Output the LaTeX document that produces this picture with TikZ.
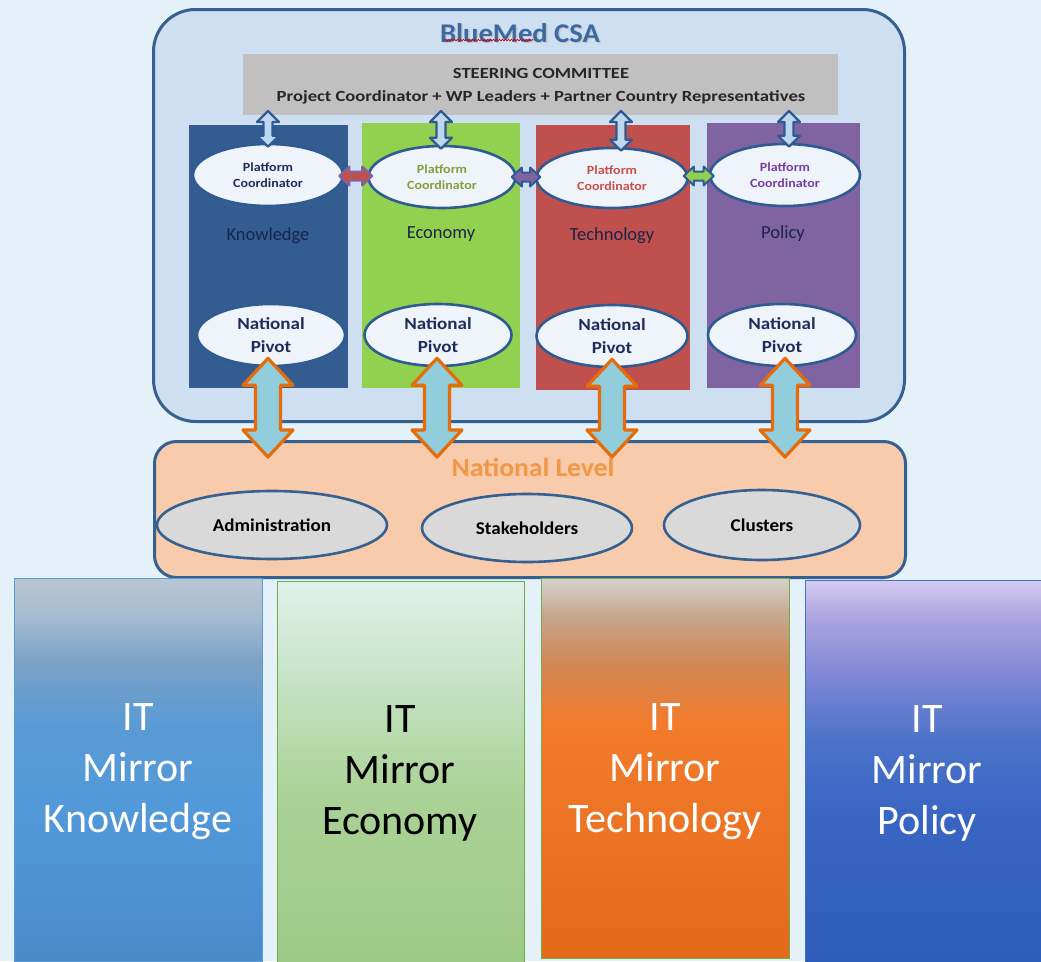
\documentclass[tikz,border=0pt]{standalone}
\usepackage{fontspec}
\setmainfont{Carlito}
\newfontfamily\wideA[FakeStretch=1.2]{Carlito}
\newfontfamily\wideB[FakeStretch=1.12]{Carlito}
\newfontfamily\wideC[FakeStretch=1.06]{Carlito}
\usetikzlibrary{shapes.geometric,calc,decorations.pathmorphing}
\definecolor{bgc}{HTML}{E4F1F9}
\definecolor{csafill}{HTML}{CEDFF2}
\definecolor{boxline}{HTML}{35608F}
\definecolor{titlec}{HTML}{3A69A3}
\definecolor{scfill}{HTML}{C0C0C0}
\definecolor{kcol}{HTML}{335D90}
\definecolor{ecol}{HTML}{92D050}
\definecolor{tcol}{HTML}{C0504D}
\definecolor{pcol}{HTML}{8064A2}
\definecolor{ellfill}{HTML}{EEF4FA}
\definecolor{navy}{HTML}{1F2D5C}
\definecolor{olive}{HTML}{8C9C3C}
\definecolor{redtxt}{HTML}{C8504A}
\definecolor{purtxt}{HTML}{7A3DA0}
\definecolor{sarrfill}{HTML}{BDD7EE}
\definecolor{sarrline}{HTML}{2F5B92}
\definecolor{barrfill}{HTML}{92CDDC}
\definecolor{barrline}{HTML}{E46C0A}
\definecolor{nlfill}{HTML}{F8CBAD}
\definecolor{nltxt}{HTML}{F0984A}
\definecolor{grayell}{HTML}{D9D9D9}
\definecolor{greenline}{HTML}{70AD47}
\definecolor{blueline}{HTML}{5B9BD5}
\definecolor{polline}{HTML}{4472C4}
\definecolor{kb0}{HTML}{4A8ACB}\definecolor{kb1}{HTML}{5299DA}\definecolor{kb2}{HTML}{5A9AD4}
\definecolor{kb3}{HTML}{7AA2C6}\definecolor{kb4}{HTML}{A6BBD0}\definecolor{kb5}{HTML}{BAC5D2}
\definecolor{eb0}{HTML}{9DCA87}\definecolor{eb1}{HTML}{ACD297}\definecolor{eb2}{HTML}{C6E3C6}\definecolor{eb3}{HTML}{E0F2EC}
\definecolor{tb0}{HTML}{E4691A}\definecolor{tb1}{HTML}{EE7727}\definecolor{tb2}{HTML}{F27B2C}
\definecolor{tb3}{HTML}{CF8857}\definecolor{tb4}{HTML}{C7A68E}\definecolor{tb5}{HTML}{D5D2CC}
\definecolor{pb0}{HTML}{2E5CBB}\definecolor{pb1}{HTML}{3A66C3}\definecolor{pb2}{HTML}{4A72C8}
\definecolor{pb3}{HTML}{7F87D5}\definecolor{pb4}{HTML}{ACA3E0}\definecolor{pb5}{HTML}{D3CBEE}
\pgfdeclareverticalshading{kshade}{100bp}{%
 color(0bp)=(kb0); color(25bp)=(kb0); color(45bp)=(kb1); color(56bp)=(kb2); color(64bp)=(kb3); color(70bp)=(kb4); color(75bp)=(kb5); color(100bp)=(kb5)}
\pgfdeclareverticalshading{eshade}{100bp}{%
 color(0bp)=(eb0); color(25bp)=(eb0); color(47.5bp)=(eb1); color(62.5bp)=(eb2); color(75bp)=(eb3); color(100bp)=(eb3)}
\pgfdeclareverticalshading{tshade}{100bp}{%
 color(0bp)=(tb0); color(25bp)=(tb0); color(47.5bp)=(tb1); color(56bp)=(tb2); color(64bp)=(tb3); color(70bp)=(tb4); color(75bp)=(tb5); color(100bp)=(tb5)}
\pgfdeclareverticalshading{pshade}{100bp}{%
 color(0bp)=(pb0); color(25bp)=(pb0); color(45bp)=(pb1); color(54bp)=(pb2); color(62.5bp)=(pb3); color(70bp)=(pb4); color(75bp)=(pb5); color(100bp)=(pb5)}
\newcommand\vdarr[6]{%
 \draw[#1] let \p1=(#2), \p2=(#3) in
  (\x1,\y1) -- (\x1+#5pt,\y1-#6pt) -- (\x1+#4pt,\y1-#6pt) -- (\x1+#4pt,\y2+#6pt) -- (\x1+#5pt,\y2+#6pt) -- (\x1,\y2)
  -- (\x1-#5pt,\y2+#6pt) -- (\x1-#4pt,\y2+#6pt) -- (\x1-#4pt,\y1-#6pt) -- (\x1-#5pt,\y1-#6pt) -- cycle;}
\newcommand\hdarr[6]{%
 \draw[#1] let \p1=(#2), \p2=(#3) in
  (\x1,\y1) -- (\x1+#6pt,\y1+#5pt) -- (\x1+#6pt,\y1+#4pt) -- (\x2-#6pt,\y1+#4pt) -- (\x2-#6pt,\y1+#5pt) -- (\x2,\y1)
  -- (\x2-#6pt,\y1-#5pt) -- (\x2-#6pt,\y1-#4pt) -- (\x1+#6pt,\y1-#4pt) -- (\x1+#6pt,\y1-#5pt) -- cycle;}
\tikzset{
  column/.style={anchor=north west, inner sep=0, minimum width=#1},
  pcell/.style={ellipse, draw=sarrline, line width=2.6pt, fill=ellfill, inner sep=0,
     minimum width=150, minimum height=62, align=center, font=\wideB\fontsize{12.5}{16.5}\selectfont\bfseries},
  npell/.style={ellipse, draw=sarrline, line width=2.6pt, fill=ellfill, inner sep=0,
     minimum width=148, minimum height=62, align=center, font=\wideB\fontsize{17}{23}\selectfont\bfseries, text=navy},
  nlell/.style={ellipse, draw=boxline, line width=2.6pt, fill=grayell, inner sep=0,
     minimum height=68, font=\wideC\fontsize{18}{20}\selectfont\bfseries, text=black},
  collabel/.style={font=\fontsize{18.5}{20}\selectfont, text=navy!80!black},
  sarr/.style={fill=sarrfill, draw=sarrline, line width=2.2pt, line join=round},
  harr/.style={line width=2pt, line join=round},
  barr/.style={fill=barrfill, draw=barrline, line width=3.2pt, line join=round},
  mirror/.style={anchor=north west, inner sep=0, minimum width=248, minimum height=383, line width=0.8pt},
  mirtext/.style={align=center, font=\fontsize{42}{51}\selectfont},
}
\begin{document}
\begin{tikzpicture}[x=1pt,y=-1pt]
\useasboundingbox (0,0) rectangle (1041,961);
\fill[bgc] (0,0) rectangle (1041,961);
% CSA box
\node[draw=boxline, line width=3pt, fill=csafill, rounded corners=42pt, anchor=north west,
      inner sep=0, minimum width=751, minimum height=412] (csa) at (152,8) {};
\node[text=gray!45, font=\wideC\fontsize{27}{30}\selectfont\bfseries] at (521.5,34.5) {BlueMed CSA};
\node[text=titlec, font=\wideC\fontsize{27}{30}\selectfont\bfseries] (title) at (520,33) {BlueMed CSA};
\draw[red!85!black, line width=0.6pt, decorate, decoration={snake, amplitude=0.8pt, segment length=3pt}]
   ($(title.south west)+(8,-6)$) -- ($(title.south west)+(98,-6)$);
% steering committee
\node[fill=scfill, anchor=north west, inner sep=0, minimum width=595, minimum height=61] (sc) at (243,54) {};
\node[font=\wideA\fontsize{15.5}{17}\selectfont\bfseries, text=black!85] at (541,73) {STEERING COMMITTEE};
\node[font=\wideA\fontsize{15.5}{17}\selectfont\bfseries, text=black!85] at (541,97) {Project Coordinator + WP Leaders + Partner Country Representatives};
% columns
\node[column=159, minimum height=263, fill=kcol] (ck) at (189,125) {};
\node[column=158, minimum height=265, fill=ecol] (ce) at (362,123) {};
\node[column=154, minimum height=265, fill=tcol] (ct) at (536,125) {};
\node[column=153, minimum height=265, fill=pcol] (cp) at (707,123) {};
% column labels
\node[collabel] (lk) at (268,236) {Knowledge};
\node[collabel] (le) at (441,234) {Economy};
\node[collabel] (lt) at (612,236) {Technology};
\node[collabel] (lp) at (783,234) {Policy};
% platform coordinators
\node[pcell, text=navy] (pc1) at (268,175) {Platform\\Coordinator};
\node[pcell, text=olive, minimum width=147] (pc2) at (442,177) {Platform\\Coordinator};
\node[pcell, text=redtxt, minimum width=151, minimum height=60] (pc3) at (612,178) {Platform\\Coordinator};
\node[pcell, text=purtxt] (pc4) at (785,175) {Platform\\Coordinator};
% national pivots
\node[npell] (np1) at (271,335) {National\\Pivot};
\node[npell, minimum width=147] (np2) at (438,335) {National\\Pivot};
\node[npell, minimum width=151] (np3) at (612,336) {National\\Pivot};
\node[npell] (np4) at (782,335) {National\\Pivot};
% small vertical arrows
\coordinate (s1) at (268,111); \coordinate (s2) at (441,111);
\coordinate (s3) at (621,111); \coordinate (s4) at (789,111);
\vdarr{sarr}{s1}{$(s1|-pc1.north)+(0,4)$}{4.5}{11}{11}
\vdarr{sarr}{s2}{$(s2|-pc2.north)+(0,4)$}{4.5}{11}{11}
\vdarr{sarr}{s3}{$(s3|-pc3.north)+(0,4)$}{4.5}{11}{11}
\vdarr{sarr}{s4}{$(s4|-pc4.north)+(0,4)$}{4.5}{11}{11}
% horizontal arrows
\hdarr{harr, fill=tcol, draw=pcol}{$(pc1.east)+(-5,1)$}{$(pc2.west)+(5,-1)$}{4.5}{9.5}{10}
\hdarr{harr, fill=pcol, draw=sarrline}{$(pc2.east)+(-5,0)$}{$(pc3.west)+(5,0)$}{4.5}{9.5}{10}
\hdarr{harr, fill=ecol, draw=sarrline}{$(pc3.east)+(-5,-2)$}{$(pc4.west)+(5,0)$}{4.5}{9.5}{10}
% national level
\node[draw=boxline, line width=3pt, fill=nlfill, rounded corners=22pt, anchor=north west,
      inner sep=0, minimum width=751, minimum height=136] (nl) at (153,440) {};
\node[text=nltxt!55, font=\wideC\fontsize{26}{28}\selectfont\bfseries] at (534.5,468.5) {National Level};
\node[text=nltxt, font=\wideC\fontsize{26}{28}\selectfont\bfseries] (nltitle) at (533,467) {National Level};
\node[nlell, minimum width=230] (adm) at (272,525) {Administration};
\node[nlell, minimum width=210] (stk) at (527,528) {Stakeholders};
\node[nlell, minimum width=196, minimum height=70] (clu) at (762,525) {Clusters};
% big arrows
\vdarr{barr}{$(np1.south)+(-3,-9)$}{$(np1.south |- nl.north)+(-3,17)$}{12.5}{25}{27}
\vdarr{barr}{$(np2.south)+(-1,-9)$}{$(np2.south |- nl.north)+(-1,17)$}{12.5}{25}{27}
\vdarr{barr}{$(np3.south)+(0,-9)$}{$(np3.south |- nl.north)+(0,17)$}{12.5}{25}{27}
\vdarr{barr}{$(np4.south)+(3,-9)$}{$(np4.south |- nl.north)+(3,17)$}{12.5}{25}{27}
% IT mirror columns
\node[mirror, shading=kshade, draw=blueline] (mk) at (14,578) {};
\node[mirror, shading=eshade, draw=greenline, minimum width=247] (me) at (277,581) {};
\node[mirror, shading=tshade, draw=greenline, minimum height=380] (mt) at (541,578) {};
\node[mirror, shading=pshade, draw=polline, minimum width=240] (mp) at (805,580) {};
\node[mirtext, text=white] at (138,772) {IT\\Mirror\\Knowledge};
\node[mirtext, text=black] at (400,773) {IT\\Mirror\\Economy};
\node[mirtext, text=white] at (665,772) {IT\\Mirror\\Technology};
\node[mirtext, text=white] at (927,773) {IT\\Mirror\\Policy};
\end{tikzpicture}
\end{document}
